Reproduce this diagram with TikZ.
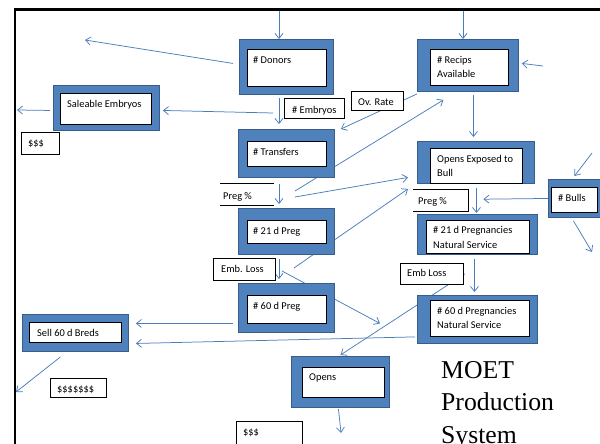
\documentclass[tikz,border=0pt]{standalone}
\usepackage{fontspec}
\newfontfamily\carlito{Carlito}
\newfontfamily\timesfont{Liberation Serif}
\usepackage{tikz}
\usetikzlibrary{arrows.meta, positioning, calc}
\definecolor{boxblue}{HTML}{4F81BD}
\definecolor{boxrim}{HTML}{385D8A}
\definecolor{flowblue}{HTML}{4A7EBB}
\pgfdeclarelayer{background}
\pgfsetlayers{background,main}
\tikzset{
  outerbox/.style={draw=boxrim, fill=boxblue, line width=0.9pt, inner sep=0pt, anchor=north west},
  innerbox/.style={draw=black, fill=white, line width=0.8pt, inner sep=0pt, anchor=north west},
  tagbox/.style={draw=black, fill=white, line width=0.8pt, inner sep=0pt, anchor=north west},
  openbox/.style={fill=white, inner sep=0pt, anchor=north west},
  boxtext/.style={inner sep=0pt, align=left, font=\carlito\fontsize{10.4pt}{14.5pt}\selectfont},
  flow/.style={draw=flowblue, line width=0.75pt, -{Straight Barb[length=5pt, width=8pt]}},
  frame/.style={line width=2.3pt},
}

\begin{document}
\begin{tikzpicture}[x=1pt, y=-1pt]
    \useasboundingbox (0,0) rectangle (600,444);
    %% outer frame
    \draw[frame] (14.7,444) -- (14.7,9.5) -- (600,9.5);

    %% embryo side
    \node[outerbox, minimum width=94pt, minimum height=55pt] (donorsOut) at (239,39) {};
    \node[innerbox, minimum width=79pt, minimum height=37pt] (donorsIn) at (247,49) {};
    \node[boxtext, below right=3.85pt and 6pt of donorsIn.north west] (donorsTxt) {\strut\# Donors};

    \node[outerbox, minimum width=106pt, minimum height=45pt] (saleOut) at (53,85) {};
    \node[innerbox, minimum width=91pt, minimum height=31pt] (saleIn) at (60,93) {};
    \node[boxtext, below right=3.85pt and 7pt of saleIn.north west] (saleTxt) {\strut Saleable Embryos};

    \node[outerbox, minimum width=96pt, minimum height=48pt] (transOut) at (238,129) {};
    \node[innerbox, minimum width=79pt, minimum height=25pt] (transIn) at (247,141) {};
    \node[boxtext, below right=3.85pt and 6pt of transIn.north west] (transTxt) {\strut\# Transfers};

    \node[outerbox, minimum width=96pt, minimum height=46pt] (preg21Out) at (238,208) {};
    \node[innerbox, minimum width=79pt, minimum height=23pt] (preg21In) at (247,220) {};
    \node[boxtext, below right=3.85pt and 6pt of preg21In.north west] (preg21Txt) {\strut\# 21 d Preg};

    \node[outerbox, minimum width=96pt, minimum height=49pt] (preg60Out) at (238,283) {};
    \node[innerbox, minimum width=79pt, minimum height=28pt] (preg60In) at (247,295) {};
    \node[boxtext, below right=3.85pt and 6pt of preg60In.north west] (preg60Txt) {\strut\# 60 d Preg};

    \node[outerbox, minimum width=106pt, minimum height=37pt] (sellOut) at (22,314) {};
    \node[innerbox, minimum width=92pt, minimum height=20pt] (sellIn) at (29,322) {};
    \node[boxtext, below right=3.85pt and 8pt of sellIn.north west] (sellTxt) {\strut Sell 60 d Breds};

    \node[outerbox, minimum width=98pt, minimum height=51pt] (opensOut) at (291,356) {};
    \node[innerbox, minimum width=82pt, minimum height=30pt] (opensIn) at (302,367) {};
    \node[boxtext, below right=3.5pt and 7pt of opensIn.north west] (opensTxt) {\strut Opens};

    %% natural service side
    \node[outerbox, minimum width=101pt, minimum height=52pt] (recipsOut) at (417,39) {};
    \node[innerbox, minimum width=78pt, minimum height=36pt] (recipsIn) at (430,49) {};
    \node[boxtext, below right=3.85pt and 7pt of recipsIn.north west] (recipsTxt) {\strut\# Recips\\Available};

    \node[outerbox, minimum width=117pt, minimum height=42pt] (exposedOut) at (417,141) {};
    \node[innerbox, minimum width=92pt, minimum height=35pt] (exposedIn) at (430,148) {};
    \node[boxtext, below right=3.85pt and 7pt of exposedIn.north west] (exposedTxt) {\strut Opens Exposed to\\Bull};

    \node[outerbox, minimum width=56pt, minimum height=38pt] (bullsOut) at (548,179) {};
    \node[innerbox, minimum width=46pt, minimum height=25pt] (bullsIn) at (551,187) {};
    \node[boxtext, below right=4.3pt and 7pt of bullsIn.north west] (bullsTxt) {\strut\# Bulls};

    \node[outerbox, minimum width=120pt, minimum height=40pt] (nat21Out) at (417,214) {};
    \node[innerbox, minimum width=103pt, minimum height=33pt] (nat21In) at (426,220) {};
    \node[boxtext, below right=3.3pt and 7pt of nat21In.north west] (nat21Txt) {\strut\# 21 d Pregnancies\\Natural Service};

    \node[outerbox, minimum width=120pt, minimum height=48pt] (nat60Out) at (417,295) {};
    \node[innerbox, minimum width=99pt, minimum height=36pt] (nat60In) at (430,300) {};
    \node[boxtext, below right=3.85pt and 7pt of nat60In.north west] (nat60Txt) {\strut\# 60 d Pregnancies\\Natural Service};

    %% rate and money tags
    \node[tagbox, minimum width=38pt, minimum height=22pt] (cashEmb) at (21,132) {};
    \node[boxtext, below right=3.85pt and 7pt of cashEmb.north west] (cashEmbTxt) {\strut\$\$\$};
    \node[tagbox, minimum width=60pt, minimum height=20pt] (embryos) at (284,98) {};
    \node[boxtext, below right=5pt and 8pt of embryos.north west] (embryosTxt) {\strut\# Embryos};
    \node[tagbox, minimum width=52pt, minimum height=19pt] (ovRate) at (351,91) {};
    \node[boxtext, below right=3.85pt and 7pt of ovRate.north west] (ovRateTxt) {\strut Ov. Rate};
    \node[openbox, minimum width=54pt, minimum height=22pt] (pregET) at (220,183) {};
    \draw[line width=0.8pt] (pregET.north west) -- (pregET.north east)
                            (pregET.south west) -- (pregET.south east);
    \node[boxtext, below right=5.8pt and 3pt of pregET.north west] (pregETTxt) {\strut Preg \%};
    \node[openbox, minimum width=55pt, minimum height=22pt] (pregNS) at (413,189) {};
    \draw[line width=0.8pt] (pregNS.north west) -- (pregNS.north east)
                            -- (pregNS.south east) -- (pregNS.south west);
    \node[boxtext, below right=4.8pt and 5pt of pregNS.north west] (pregNSTxt) {\strut Preg \%};
    \node[tagbox, minimum width=62pt, minimum height=22pt] (lossET) at (213,258) {};
    \node[boxtext, below right=4.2pt and 8pt of lossET.north west] (lossETTxt) {\strut Emb. Loss};
    \node[tagbox, minimum width=63pt, minimum height=21pt] (lossNS) at (400,263) {};
    \node[boxtext, below right=3.5pt and 7pt of lossNS.north west] (lossNSTxt) {\strut Emb Loss};
    \node[tagbox, minimum width=56pt, minimum height=19pt] (cashBred) at (50,378) {};
    \node[boxtext, below right=4.2pt and 7pt of cashBred.north west] (cashBredTxt) {\strut\$\$\$\$\$\$\$};
    \node[tagbox, minimum width=66pt, minimum height=30pt] (cashOpen) at (236,421) {};
    \node[boxtext, below right=3.85pt and 7pt of cashOpen.north west] (cashOpenTxt) {\strut\$\$\$};

    %% title
    \node[inner sep=0pt, anchor=north west, align=left,
          font=\timesfont\fontsize{25.7pt}{32.5pt}\selectfont] (title) at (441,355.5)
          {\strut MOET\\Production\\System};

    %% free ends
    \coordinate (inDonors) at (279,10);
    \coordinate (inRecips) at (463,10);
    \coordinate (donorsGone) at (85,40);
    \coordinate (saleGone) at (17,110);
    \coordinate (embSplit) at (273,113);
    \coordinate (recipsFeed) at (543,66);
    \coordinate (pregToRecips) at (295,191);
    \coordinate (pregToOpens) at (295,197);
    \coordinate (lossToOpens) at (294,268);
    \coordinate (lossToNat) at (282,271);
    \coordinate (bullsFeed) at (592,153);
    \coordinate (bullsGone) at (592,252);
    \coordinate (sellGone) at (16,392);
    \coordinate (opensGone) at (341,433);

    %% flows
    \begin{pgfonlayer}{background}
      \draw[flow] (inDonors) -- (inDonors |- donorsOut.north);
      \draw[flow] ($(donorsOut.west)+(-6,-3.5)$) -- (donorsGone);
      \draw[flow] ($(saleOut.west)+(-3,2.5)$) -- (saleGone);
      \draw[flow] (embSplit) -- ($(saleOut.east)+(3,2.5)$);
      \draw[flow] ($(inDonors |- donorsOut.south)+(0,3)$) -- ($(inDonors |- transOut.north)+(0,-5)$);
      \draw[flow] ($(recipsOut.south west)+(0,2)$) -- ($(transOut.north east)+(6,0)$);
      \draw[flow] (inRecips) -- (inRecips |- recipsOut.north);
      \draw[flow] (recipsFeed) -- ($(recipsOut.east)+(3,-2)$);
      \draw[flow] ($(recipsOut.south)+(5.5,3)$) -- ($(exposedOut.north)+(-2.5,-4)$);
      \draw[flow] (pregToRecips) -- ($(recipsOut.south)+(-24.5,8)$);
      \draw[flow] (pregToOpens) -- ($(exposedOut.west)+(-9,15)$);
      \draw[flow] (lossToOpens) -- ($(exposedOut.south west)+(-9,5)$);
      \draw[flow] ($(inDonors |- transOut.south)+(0,6)$) -- ($(inDonors |- preg21Out.north)+(0,-4)$);
      \draw[flow] ($(inDonors |- preg21Out.south)+(0,4)$) -- ($(inDonors |- preg60Out.north)+(0,-4)$);
      \draw[flow] (lossToNat) -- ($(nat60Out.west)+(-37,4)$);
      \draw[flow] ($(lossNS.east)+(1,0)$) -- ($(opensOut.north)+(0,-1)$);
      \draw[flow] ($(exposedOut.south)+(0.5,4)$) -- ($(nat21Out.north)+(-1,-1)$);
      \draw[flow] (bullsOut.west) -- ($(pregNS.east)+(15,-1)$);
      \draw[flow] (bullsFeed) -- ($(bullsOut.north)+(-2,-3)$);
      \draw[flow] ($(bullsOut.south)+(-3,3)$) -- (bullsGone);
      \draw[flow] ($(nat21Out.south)+(-3,4)$) -- ($(nat60Out.north)+(-3,-3)$);
      \draw[flow] ($(nat60Out.south west)+(-2,-7)$) -- ($(sellOut.east)+(7,10.5)$);
      \draw[flow] ($(preg60Out.west)+(-5,15.5)$) -- ($(sellOut.east)+(7,-9.5)$);
      \draw[flow] ($(sellOut.south)+(-15,5)$) -- (sellGone);
      \draw[flow] ($(opensOut.south)+(-2,1)$) -- (opensGone);
    \end{pgfonlayer}
\end{tikzpicture}
\end{document}
